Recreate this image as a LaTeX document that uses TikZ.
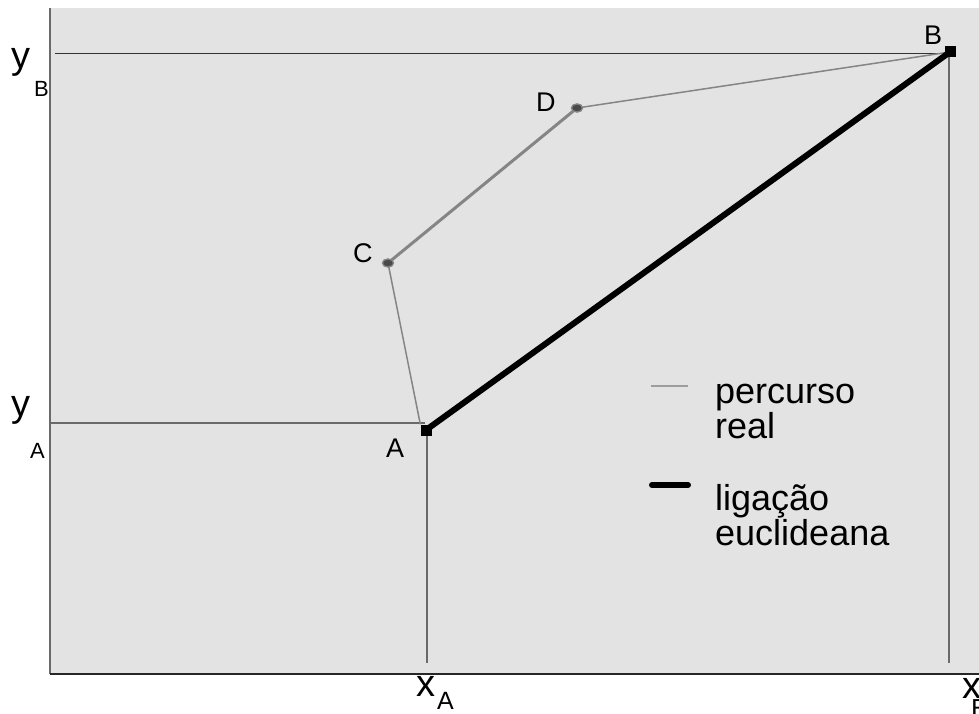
\documentclass[tikz,border=0pt]{standalone}
\usepackage{fontspec}
\setmainfont{Liberation Sans}
\definecolor{bgpanel}{HTML}{E3E3E3}
\definecolor{pathgray}{HTML}{858585}
\definecolor{axisgray}{HTML}{6A6A6A}
\definecolor{dotfill}{HTML}{4A4A4A}
\tikzset{
  lbl/.style={anchor=base west, inner sep=0pt, outer sep=0pt},
  ptlbl/.style={lbl, font=\fontsize{27}{27}\selectfont},
  axlbl/.style={lbl, font=\fontsize{38}{38}\selectfont},
  legtxt/.style={anchor=north west, inner sep=0pt, align=left, font=\fontsize{36}{35}\selectfont},
  sqpt/.style={rectangle, fill=black, minimum size=11pt, inner sep=0pt},
  dotpt/.style={ellipse, fill=dotfill, draw=pathgray, line width=1.2pt, minimum width=11pt, minimum height=8pt, inner sep=0pt},
  guide/.style={draw=axisgray, line width=1.5pt},
  realpath/.style={draw=pathgray, line width=1.5pt},
}
\usetikzlibrary{shapes.geometric}
\begin{document}
\begin{tikzpicture}[x=1pt,y=-1pt]
\useasboundingbox (0,0) rectangle (979,714);
\fill[bgpanel] (50,8) rectangle (979,674);
% axes
\coordinate (axtop) at (50,8);
\coordinate (axorig) at (50,674);
\coordinate (axright) at (979,674);
\draw[draw=axisgray, line width=2pt] (axtop) -- (axorig);
\draw[draw=black!85, line width=1.5pt] (axorig) -- (axright);
% points
\node[sqpt] (A) at (426,430) {};
\node[sqpt] (B) at (950,52) {};
\node[dotpt] (C) at (388,263) {};
\node[dotpt] (D) at (577,108) {};
% guides
\coordinate (yBstart) at (55,54);
\coordinate (yBend) at (948,54);
\coordinate (yAstart) at (50,423);
\coordinate (yAend) at (425,423);
\coordinate (xAbot) at (427,663);
\coordinate (xAtop) at (427,430);
\coordinate (xBbot) at (949,663);
\coordinate (xBtop) at (949,52);
\draw[black!80, line width=1pt] (yBstart) -- (yBend);
\draw[guide] (yAstart) -- (yAend);
\draw[guide] (xAtop) -- (xAbot);
\draw[guide] (xBtop) -- (xBbot);
% real path
\draw[realpath] (A.north west) -- (C.center);
\draw[draw=pathgray, line width=3pt] (C.center) -- (D.center);
\draw[realpath] (D.center) -- (B.center);
% euclidean
\draw[black, line width=6pt] (A.center) -- (B.center);
\node[sqpt] at (A) {};
\node[sqpt] at (B) {};
\node[dotpt] at (C) {};
\node[dotpt] at (D) {};
% point labels
\node[ptlbl] (lA) at (386,457) {A};
\node[ptlbl] (lB) at (924,45) {B};
\node[ptlbl] (lC) at (353,262) {C};
\node[ptlbl] (lD) at (536,112) {D};
% axis labels
\node[axlbl] (yB) at (12,69) {y};
\node[lbl, font=\fontsize{22}{22}\selectfont] (yBs) at (34,97) {B};
\node[axlbl] (yA) at (12,416) {y};
\node[lbl, font=\fontsize{22}{22}\selectfont] (yAs) at (30,458) {A};
\node[axlbl] (xA) at (416,696) {x};
\node[lbl, font=\fontsize{25}{25}\selectfont] (xAs) at (437,709) {A};
\node[axlbl] (xB) at (962,698) {x};
\node[lbl, font=\fontsize{26}{26}\selectfont] (xBs) at (971,717) {B};
% legend
\coordinate (l1a) at (651,386);
\coordinate (l1b) at (688,386);
\coordinate (l2a) at (652,485);
\coordinate (l2b) at (688,485);
\draw[draw=pathgray!80, line width=1.5pt] (l1a) -- (l1b);
\draw[black, line width=6pt, line cap=round] (l2a) -- (l2b);
\node[legtxt] (t1) at (715,384) {percurso\\real};
\node[legtxt] (t2) at (715,484) {ligação\\euclideana};
\end{tikzpicture}
\end{document}
